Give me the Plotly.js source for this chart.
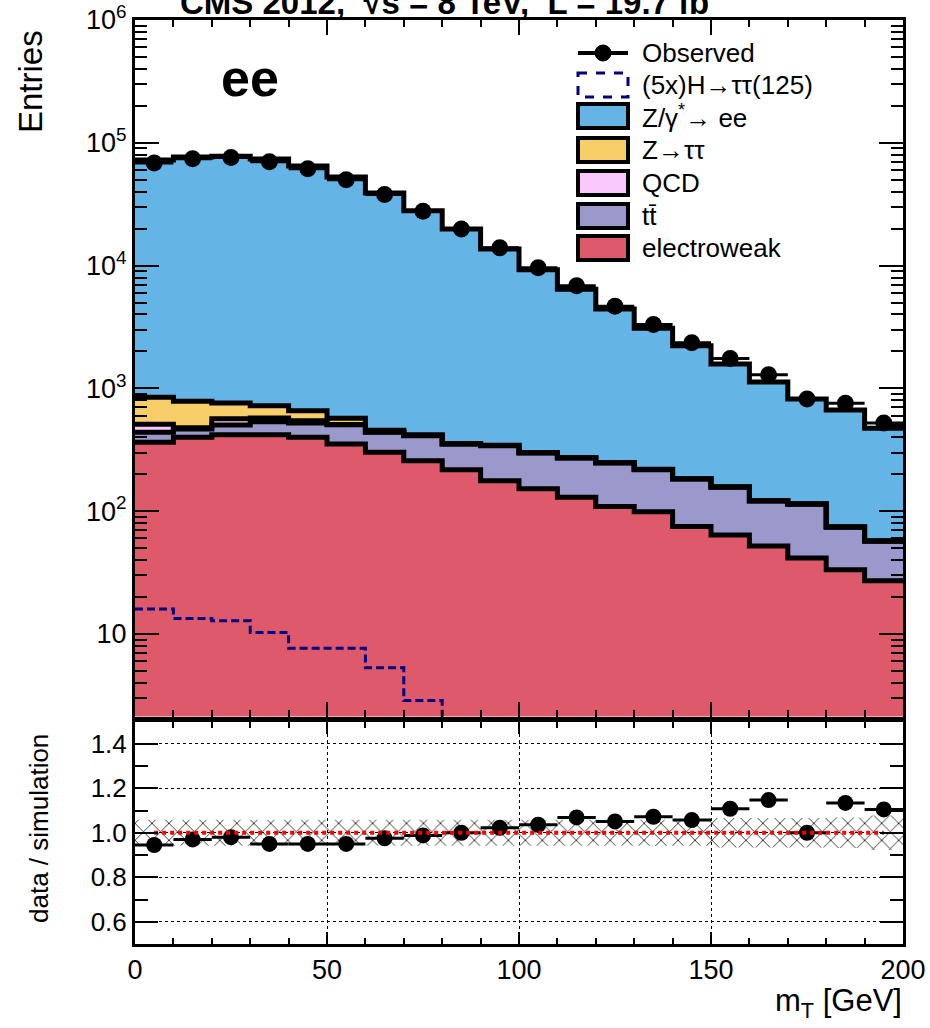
<!DOCTYPE html>
<html>
<head>
<meta charset="utf-8">
<script src="https://cdn.plot.ly/plotly-3.0.1.min.js"></script>
<style>
  html, body { margin: 0; padding: 0; background: #fff; }
  #chart { width: 930px; height: 1028px; }
</style>
</head>
<body>
<div id="chart"></div>
<script>
// ---------------- data ----------------
const binLow = [0,10,20,30,40,50,60,70,80,90,100,110,120,130,140,150,160,170,180,190];
const binWidth = 10;

const observed    = [68400,74300,76000,70100,61500,50100,38000,27700,19870,13950,9600,6850,4660,3310,2355,1750,1294,820,756,523];
const zee         = [71550,75800,76840,73080,64040,52130,38540,27580,19510,13310,8970,6140,4180,2866,2043,1422,1006,705,592,416];
const ztautau     = [337,307,195,148,112,62,15,6,3,2,1.5,1,1,0.8,0.6,0.5,0.4,0.3,0.3,0.2];
const qcd         = [71,11,63,40,23,3,2,1,1,1,1,1,1,0.5,0.5,0.5,0.5,0.5,0.3,0.3];
const ttbar       = [75,67,83,115,123,154,137,154,134,164,146,141,138,119,108,93,69,72.4,40.6,29.8];
const electroweak = [364,400,420,420,400,352,302,258,218,177,152,130,109,99,75,64,52,41.6,33.4,27.2];
const higgs5x     = [16.0,13.4,12.8,10.3,7.65,7.65,5.3,2.87,2.0,1.5,1.2,1.0,0.8,0.6,0.5,0.4,0.3,0.2,0.2,0.1];

const ratio       = [0.945,0.97,0.98,0.95,0.95,0.95,0.975,0.988,1.0,1.022,1.036,1.069,1.051,1.072,1.057,1.108,1.147,1.0,1.134,1.105];
const ratioErr    = [0.005,0.005,0.005,0.005,0.005,0.005,0.006,0.006,0.007,0.008,0.01,0.01,0.012,0.012,0.014,0.015,0.016,0.02,0.025,0.03];
const bandUnc     = [0.058,0.058,0.058,0.058,0.058,0.058,0.058,0.058,0.058,0.058,0.058,0.058,0.058,0.058,0.058,0.066,0.066,0.066,0.068,0.078];

const yTickVals = [10,100,1000,10000,100000,1000000];
const yTickText = ['10','10<sup>2</sup>','10<sup>3</sup>','10<sup>4</sup>','10<sup>5</sup>','10<sup>6</sup>'];

const legendLabels = ['Observed','(5x)H\u2192\u03c4\u03c4(125)','Z/\u03b3<sup>*</sup>\u2192 ee','Z\u2192\u03c4\u03c4','QCD','tt\u0304','electroweak'];

// ---------------- styles ----------------
const C_ZEE = '#64B5E6', C_ZTT = '#F8CE68', C_QCD = '#FAC8FA', C_TT = '#9B98CC', C_EW = '#DE5A6A', C_H = '#000080';
const FONT = '"Liberation Sans", Arial, Helvetica, sans-serif';

// ---------------- helpers ----------------
const edges = binLow.concat([binLow[binLow.length-1] + binWidth]);
const centers = binLow.map(v => v + binWidth/2);
const stepY = a => a.concat([a[a.length-1]]);
const add = (a,b) => a.map((v,i) => v + b[i]);

const c1 = electroweak;
const c2 = add(c1, ttbar);
const c3 = add(c2, qcd);
const c4 = add(c3, ztautau);
const c5 = add(c4, zee);

// pixel -> paper (plot area: x 135..903, y 20..944)
const L = 135, R = 903, T = 20, B = 944;
const px = p => (p - L) / (R - L);
const py = p => (B - p) / (B - T);

const traces = [];
function fillTrace(y, fill, color) {
  return {x: edges, y: stepY(y), type:'scatter', mode:'lines', line:{shape:'hv', width:0, color:color},
          fill: fill, fillcolor: color, xaxis:'x', yaxis:'y', hoverinfo:'skip', showlegend:false};
}
traces.push(fillTrace(c1, 'tozeroy', C_EW));
traces.push(fillTrace(c2, 'tonexty', C_TT));
traces.push(fillTrace(c3, 'tonexty', C_QCD));
traces.push(fillTrace(c4, 'tonexty', C_ZTT));
traces.push(fillTrace(c5, 'tonexty', C_ZEE));
[c1, c2, c3, c4, c5].forEach(c => traces.push({
  x: edges, y: stepY(c), type:'scatter', mode:'lines', line:{shape:'hv', width:5, color:'black'},
  xaxis:'x', yaxis:'y', hoverinfo:'skip', showlegend:false
}));
traces.push({x: edges, y: stepY(higgs5x), type:'scatter', mode:'lines',
  line:{shape:'hv', width:3, color:C_H, dash:'8px,4px'}, xaxis:'x', yaxis:'y', showlegend:false});
traces.push({x: centers, y: observed, type:'scatter', mode:'markers',
  marker:{color:'black', size:17, symbol:'circle'},
  error_x:{type:'constant', value:binWidth/2, width:0, thickness:3, color:'black'},
  xaxis:'x', yaxis:'y', showlegend:false});

// ratio panel
traces.push({x: edges, y: stepY(bandUnc.map(u => 1 - u)), type:'scatter', mode:'lines',
  line:{shape:'hv', width:0}, xaxis:'x2', yaxis:'y2', showlegend:false, hoverinfo:'skip'});
traces.push({x: edges, y: stepY(bandUnc.map(u => 1 + u)), type:'scatter', mode:'lines',
  line:{shape:'hv', width:0}, fill:'tonexty', fillcolor:'rgba(0,0,0,0)',
  fillpattern:{shape:'x', fgcolor:'#222222', bgcolor:'rgba(0,0,0,0)', size:12, solidity:0.14},
  xaxis:'x2', yaxis:'y2', showlegend:false, hoverinfo:'skip'});
traces.push({x: centers, y: ratio, type:'scatter', mode:'markers',
  marker:{color:'black', size:16},
  error_x:{type:'constant', value:binWidth/2, width:0, thickness:3, color:'black'},
  error_y:{type:'data', array:ratioErr, width:0, thickness:2, color:'black'},
  xaxis:'x2', yaxis:'y2', showlegend:false});
traces.push({x:[centers[0], centers[centers.length-1]], y:[1,1], type:'scatter', mode:'lines',
  line:{color:'#FF0000', width:4, dash:'dot'}, xaxis:'x2', yaxis:'y2', showlegend:false});

// ---------------- legend (drawn) ----------------
const shapes = [];
const annotations = [];
const rowY = [53, 85, 116, 150, 183, 216, 248];
const bx0 = 578, bx1 = 628, bh = 12;
// Observed
shapes.push({type:'line', xref:'paper', yref:'paper', x0:px(bx0), x1:px(bx1), y0:py(rowY[0]), y1:py(rowY[0]), line:{color:'black', width:4}});
shapes.push({type:'circle', xref:'paper', yref:'paper', x0:px(603-8), x1:px(603+8), y0:py(rowY[0]-8), y1:py(rowY[0]+8), fillcolor:'black', line:{color:'black', width:1}});
// Higgs
shapes.push({type:'rect', xref:'paper', yref:'paper', x0:px(bx0), x1:px(bx1), y0:py(rowY[1]-bh), y1:py(rowY[1]+bh), fillcolor:'white', line:{color:C_H, width:3, dash:'dash'}});
[C_ZEE, C_ZTT, C_QCD, C_TT, C_EW].forEach((c, i) => {
  const yy = rowY[i+2];
  shapes.push({type:'rect', xref:'paper', yref:'paper', x0:px(bx0), x1:px(bx1), y0:py(yy-bh), y1:py(yy+bh), fillcolor:c, line:{color:'black', width:4}});
});
legendLabels.forEach((t, i) => annotations.push({
  text: t, xref:'paper', yref:'paper', x: px(640), y: py(rowY[i]), xanchor:'left', yanchor:'middle',
  showarrow:false, font:{family:FONT, size:26, color:'black'}
}));

// texts
annotations.push({text:'CMS 2012,  \u221as = 8 TeV,  L = 19.7 fb<sup>\u22121</sup>', xref:'paper', yref:'paper',
  x: px(178), y: py(0), xanchor:'left', yanchor:'middle', showarrow:false,
  font:{family:FONT, size:33, color:'black', weight:'bold'}});
annotations.push({text:'ee', xref:'paper', yref:'paper', x: px(250), y: py(78), xanchor:'center', yanchor:'middle',
  showarrow:false, font:{family:FONT, size:52, color:'black', weight:'bold'}});
annotations.push({text:'Entries', xref:'paper', yref:'paper', x: px(30), y: py(82), xanchor:'center', yanchor:'middle',
  textangle:-90, showarrow:false, font:{family:FONT, size:33, color:'black'}});
annotations.push({text:'data / simulation', xref:'paper', yref:'paper', x: px(39), y: py(829), xanchor:'center', yanchor:'middle',
  textangle:-90, showarrow:false, font:{family:FONT, size:26, color:'black'}});
annotations.push({text:'m<sub>T</sub> [GeV]', xref:'paper', yref:'paper', x: px(904), y: py(1003), xanchor:'right', yanchor:'middle',
  showarrow:false, font:{family:FONT, size:31, color:'black'}});

// minor ticks on log axis
const minorLog = [];
for (let k = 0; k <= 5; k++) for (let m = 2; m <= 9; m++) minorLog.push(m * Math.pow(10, k));

const axisCommon = {showline:true, linecolor:'black', linewidth:3, mirror:'allticks', ticks:'inside', tickcolor:'black', zeroline:false};

const layout = {
  width: 930, height: 1028,
  margin: {l: L, r: 930 - R, t: T, b: 1028 - B, pad: 0},
  paper_bgcolor:'white', plot_bgcolor:'white',
  font:{family:FONT, color:'black'},
  showlegend:false,
  xaxis: Object.assign({}, axisCommon, {anchor:'y', range:[0,200], tick0:0, dtick:50, ticklen:15, tickwidth:2,
    showticklabels:false, showgrid:false,
    minor:{ticks:'inside', dtick:10, tick0:0, ticklen:7, tickwidth:2, tickcolor:'black', showgrid:false}}),
  yaxis: Object.assign({}, axisCommon, {type:'log', domain:[(B-716.5)/(B-T), 1], range:[6 - 696.5/122.8, 6],
    tickvals:yTickVals, ticktext:yTickText, ticklen:24, tickwidth:2, showgrid:false,
    tickfont:{family:FONT, size:27, color:'black'},
    minor:{ticks:'inside', tickvals:minorLog, ticklen:12, tickwidth:2, tickcolor:'black', showgrid:false}}),
  xaxis2: Object.assign({}, axisCommon, {anchor:'y2', range:[0,200], tick0:0, dtick:50, ticklen:12, tickwidth:2,
    showgrid:true, gridcolor:'black', gridwidth:1, griddash:'dot',
    tickfont:{family:FONT, size:27, color:'black'},
    minor:{ticks:'inside', dtick:10, tick0:0, ticklen:6, tickwidth:2, tickcolor:'black', showgrid:false}}),
  yaxis2: Object.assign({}, axisCommon, {domain:[0, (B-721.5)/(B-T)], range:[0.5,1.5], tick0:0, dtick:0.2, ticklen:23, tickwidth:2,
    tickformat:'.1f', showgrid:true, gridcolor:'black', gridwidth:1, griddash:'dot',
    tickfont:{family:FONT, size:26, color:'black'},
    minor:{ticks:'inside', dtick:0.1, tick0:0, ticklen:13, tickwidth:2, tickcolor:'black', showgrid:false}}),
  shapes: shapes,
  annotations: annotations
};

Plotly.newPlot('chart', traces, layout, {staticPlot:true, displayModeBar:false});
</script>
</body>
</html>
